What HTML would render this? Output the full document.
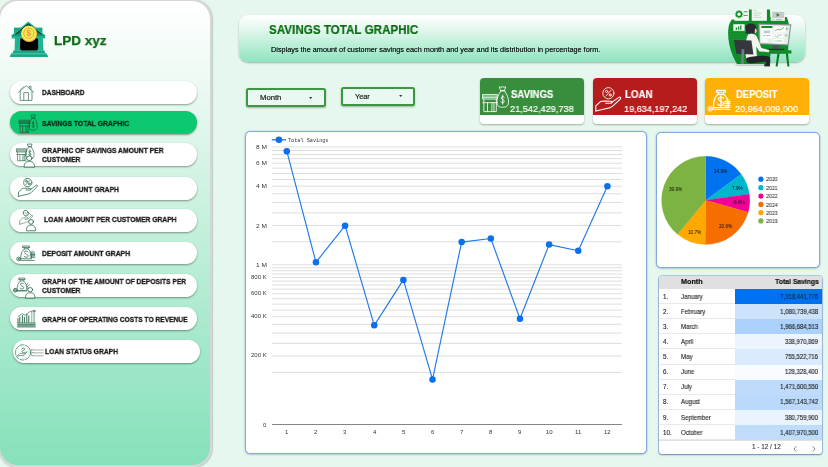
<!DOCTYPE html>
<html lang="en"><head><meta charset="utf-8"><title>LPD xyz - Savings Total Graphic</title>
<style>
*{box-sizing:border-box;margin:0;padding:0}
html,body{width:828px;height:467px;overflow:hidden}
body{position:relative;background:#e6f8ee;font-family:"Liberation Sans",sans-serif}
.t{position:absolute;white-space:nowrap;display:block;will-change:transform}
.abs{position:absolute}
#side{position:absolute;left:-2px;top:-1px;width:213.5px;height:467.5px;border-radius:20px;border:2px solid #d4d7d5;
 background:linear-gradient(180deg,#ffffff 0%,#eefaf4 16%,#c9f1de 45%,#a2e8cb 75%,#86e1ba 100%);
 box-shadow:.5px .5px 1px rgba(0,0,0,.18)}
.btn{position:absolute;background:#fff;border-radius:12px;box-shadow:0 1px 2px rgba(0,0,0,.38)}
.btn.on{background:#0cc870}
#hdr{position:absolute;left:239px;top:15px;width:566px;height:46.5px;border-radius:9px;
 background:linear-gradient(180deg,#ffffff 0%,#e9f9f1 25%,#b9eed6 65%,#8fe3bf 100%);
 box-shadow:0 1px 2px rgba(0,0,0,.3)}
.dd{position:absolute;border:2px solid #3d9742;border-radius:2.5px;background:#e9f8f0;box-shadow:0 1px 2px rgba(0,0,0,.3)}
.card{position:absolute;border-radius:4px;background:#fff;overflow:hidden;box-shadow:0 1px 2px rgba(0,0,0,.3)}
.card i{position:absolute;left:0;top:0;right:0;display:block}
.panel{position:absolute;background:#fff;border:1px solid #7fabdf;border-radius:5px;box-shadow:0 0 1.5px rgba(90,140,210,.6),0 1px 2px rgba(60,100,160,.25)}
svg{position:absolute;overflow:visible}
</style></head><body>

<div id="side"></div>
<svg style="left:6px;top:18px" width="46" height="44" viewBox="0 0 46 44">
<path d="M3.8 38.8 L5.4 35.2 L40.4 35.2 L42 38.8 Z" fill="#1fb391"/>
<path d="M3.8 38.8 L4.2 37.6 L41.6 37.6 L42 38.8 Z" fill="#179a7b"/>
<path d="M6.4 35.3 L7.6 32.2 L38.2 32.2 L39.4 35.3 Z" fill="#1aa685"/>
<rect x="8" y="9.6" width="28.4" height="8" fill="#1aa685"/>
<path d="M9 20 L14.4 20 L14.1 32.4 L8.6 32.4 Z" fill="#1fb391"/>
<path d="M31.8 20 L36.8 20 L37.4 32.4 L32 32.4 Z" fill="#1fb391"/>
<path d="M14.2 20 L32 20 L32.2 30 C32.2 32 31.4 32.6 29.6 32.6 L16.6 32.6 C14.8 32.6 14 32 14 30 Z" fill="#020202"/>
<path d="M5.7 17.2 L22.3 3.6 L39.1 17.2 L39.1 20.4 L5.7 20.4 Z" fill="#1fb391"/>
<path d="M9.4 16.4 L22.3 5.8 L35.6 16.4" fill="#128064" stroke="#0b0f0d" stroke-width=".9" stroke-linejoin="round"/>
<path d="M5.7 17.4 H39.1" stroke="#12876b" stroke-width=".8"/>
<circle cx="23.1" cy="16" r="8" fill="#f6b83c"/>
<circle cx="22.8" cy="15.2" r="7.5" fill="#f4ef55"/>
<circle cx="22.8" cy="15.2" r="5.1" fill="none" stroke="#f7a23a" stroke-width="1"/>
<text x="22.8" y="18.3" font-family="Liberation Sans, sans-serif" font-weight="700" font-size="8.4" fill="#f59336" text-anchor="middle">$</text>
</svg>
<span class="t" style="left:54.20px;top:34.10px;font:700 13.6px/1 'Liberation Sans',sans-serif;color:#0a6a12;transform:scaleX(0.9942);transform-origin:0 50%;-webkit-text-stroke:.25px;">LPD xyz</span>
<div class="btn" style="left:10.2px;top:81.2px;width:186.8px;height:23.3px"></div>
<div class="btn on" style="left:10.2px;top:111.2px;width:186.8px;height:22.5px"></div>
<div class="btn" style="left:10.2px;top:143.2px;width:186.8px;height:23.2px"></div>
<div class="btn" style="left:10.2px;top:177.2px;width:186.8px;height:23.0px"></div>
<div class="btn" style="left:10.2px;top:209px;width:186.8px;height:23.0px"></div>
<div class="btn" style="left:10.2px;top:241.5px;width:186.8px;height:22.8px"></div>
<div class="btn" style="left:10.2px;top:274px;width:186.8px;height:23.2px"></div>
<div class="btn" style="left:10.2px;top:307px;width:186.8px;height:22.8px"></div>
<div class="btn" style="left:13.2px;top:339.7px;width:186.5px;height:23.0px"></div>
<span class="t" style="left:42.20px;top:89.35px;font:700 8.1px/1 'Liberation Sans',sans-serif;color:#161616;transform:scaleX(0.8091);transform-origin:0 50%;-webkit-text-stroke:.3px;">DASHBOARD</span>
<span class="t" style="left:42.20px;top:120.05px;font:700 8.1px/1 'Liberation Sans',sans-serif;color:#0b2a18;transform:scaleX(0.8390);transform-origin:0 50%;-webkit-text-stroke:.3px;">SAVINGS TOTAL GRAPHIC</span>
<span class="t" style="left:42.20px;top:147.05px;font:700 8.1px/1 'Liberation Sans',sans-serif;color:#161616;transform:scaleX(0.8372);transform-origin:0 50%;-webkit-text-stroke:.3px;">GRAPHIC OF SAVINGS AMOUNT PER</span>
<span class="t" style="left:42.20px;top:156.35px;font:700 8.1px/1 'Liberation Sans',sans-serif;color:#161616;transform:scaleX(0.8333);transform-origin:0 50%;-webkit-text-stroke:.3px;">CUSTOMER</span>
<span class="t" style="left:42.20px;top:185.75px;font:700 8.1px/1 'Liberation Sans',sans-serif;color:#161616;transform:scaleX(0.8364);transform-origin:0 50%;-webkit-text-stroke:.3px;">LOAN AMOUNT GRAPH</span>
<span class="t" style="left:44.00px;top:216.35px;font:700 8.1px/1 'Liberation Sans',sans-serif;color:#161616;transform:scaleX(0.8330);transform-origin:0 50%;-webkit-text-stroke:.3px;">LOAN AMOUNT PER CUSTOMER GRAPH</span>
<span class="t" style="left:41.50px;top:250.15px;font:700 8.1px/1 'Liberation Sans',sans-serif;color:#161616;transform:scaleX(0.8426);transform-origin:0 50%;-webkit-text-stroke:.3px;">DEPOSIT AMOUNT GRAPH</span>
<span class="t" style="left:41.50px;top:277.55px;font:700 8.1px/1 'Liberation Sans',sans-serif;color:#161616;transform:scaleX(0.8273);transform-origin:0 50%;-webkit-text-stroke:.3px;">GRAPH OF THE AMOUNT OF DEPOSITS PER</span>
<span class="t" style="left:41.50px;top:286.85px;font:700 8.1px/1 'Liberation Sans',sans-serif;color:#161616;transform:scaleX(0.8333);transform-origin:0 50%;-webkit-text-stroke:.3px;">CUSTOMER</span>
<span class="t" style="left:41.50px;top:315.75px;font:700 8.1px/1 'Liberation Sans',sans-serif;color:#161616;transform:scaleX(0.8210);transform-origin:0 50%;-webkit-text-stroke:.3px;">GRAPH OF OPERATING COSTS TO REVENUE</span>
<span class="t" style="left:44.80px;top:347.55px;font:700 8.1px/1 'Liberation Sans',sans-serif;color:#161616;transform:scaleX(0.8316);transform-origin:0 50%;-webkit-text-stroke:.3px;">LOAN STATUS GRAPH</span>
<svg style="left:18px;top:84.5px" width="16" height="16" viewBox="0 0 16 16" fill="none" stroke="#2f6f50" stroke-width="0.7" stroke-linecap="round" stroke-linejoin="round" ><path d="M0.6 7.2 L8.2 0.7 L15.6 7.2"/><path d="M2.2 6.2 V15.4 H14 V6.2"/><path d="M5.8 15.4 V7.6 H10.4 V15.4"/><path d="M11.4 3.2 V1.2 H13 V4.8"/><path d="M2.5 4.8 l1.3 -1.8 M4.6 3.1 l1.2 -1.5" stroke-width=".5"/></svg>
<svg style="left:19px;top:113.5px" width="19" height="20" viewBox="0 0 19 20" fill="none" stroke="#1c5c3d" stroke-width="0.75" stroke-linecap="round" stroke-linejoin="round" ><g transform="translate(0 5.6) scale(0.92 1.02)"><path d="M0.5 0.6 h11 v3.2 h-11 z"/><path d="M0.5 1.7 h11 M0.5 2.8 h11"/><path d="M1.2 3.8 v8.7 h9.6 v-8.7"/><path d="M0.4 6.3 h11.2"/><path d="M4 6.3 v6.2 M7.4 6.3 v6.2 M9 6.3 v6.2"/></g><g transform="translate(10 0.5) scale(0.85 1.17)"><path d="M2.6 0.5 h4.8 l-1 2.2 h-2.8 z"/><path d="M3.2 3.1 h3.6"/><path d="M3.4 3.3 C1.2 5.4 0.2 8.3 0.4 10.6 C0.6 12.9 2.4 13.5 5 13.5 C7.6 13.5 9.4 12.9 9.6 10.6 C9.8 8.3 8.8 5.4 6.6 3.3"/><path d="M6.3 7.2 C5.9 6.4 4 6.3 3.8 7.4 C3.6 8.6 6.3 8.4 6.2 9.8 C6.1 11 4 11 3.6 10 M5 5.7 v5.8"/></g></svg>
<svg style="left:16px;top:143px" width="20" height="24" viewBox="0 0 20 24" fill="none" stroke="#2f6f50" stroke-width="0.7" stroke-linecap="round" stroke-linejoin="round" ><g transform="translate(0.4 5.2) scale(0.88 1.0)"><path d="M0.5 0.6 h11 v3.2 h-11 z"/><path d="M0.5 1.7 h11 M0.5 2.8 h11"/><path d="M1.2 3.8 v8.7 h9.6 v-8.7"/><path d="M0.4 6.3 h11.2"/><path d="M4 6.3 v6.2 M7.4 6.3 v6.2 M9 6.3 v6.2"/></g><g transform="translate(9.4 0.5) scale(0.9 1.12)"><path d="M2.6 0.5 h4.8 l-1 2.2 h-2.8 z"/><path d="M3.2 3.1 h3.6"/><path d="M3.4 3.3 C1.2 5.4 0.2 8.3 0.4 10.6 C0.6 12.9 2.4 13.5 5 13.5 C7.6 13.5 9.4 12.9 9.6 10.6 C9.8 8.3 8.8 5.4 6.6 3.3"/><path d="M6.3 7.2 C5.9 6.4 4 6.3 3.8 7.4 C3.6 8.6 6.3 8.4 6.2 9.8 C6.1 11 4 11 3.6 10 M5 5.7 v5.8"/></g><g transform="translate(7.6 12.6) scale(1.28 1.12)"><circle cx="4.5" cy="2.4" r="2.1" fill="#fff"/><path d="M0.4 10 C0.4 6.6 2 5.2 4.5 5.2 S8.6 6.6 8.6 10 Z" fill="#fff"/></g></svg>
<svg style="left:17.5px;top:178px" width="20" height="19" viewBox="0 0 20 19" fill="none" stroke="#2f6f50" stroke-width="0.8" stroke-linecap="round" stroke-linejoin="round" ><circle cx="9.8" cy="4.6" r="4.1"/><circle cx="8.4" cy="3.3" r="0.85"/><circle cx="11.2" cy="5.9" r="0.85"/><path d="M11.7 2.6 L8 6.6"/><g transform="translate(0 6.6) scale(1.0 1.0)"><path d="M0.4 11.8 L0.4 7.6 L4.2 4 C5 3.6 6 3.6 7 3.6 L12 3.8 C13.2 3.9 13.2 5.4 12 5.4 L8 5.4"/><path d="M12.6 4.8 L18.2 0.6 C19.2 0 20 1 19.2 2 L13.2 8 C12 9 10 9.6 8 10 L0.4 11.8"/></g></svg>
<svg style="left:18.5px;top:209.5px" width="18" height="22" viewBox="0 0 18 22" fill="none" stroke="#2f6f50" stroke-width="0.75" stroke-linecap="round" stroke-linejoin="round" ><ellipse cx="6.8" cy="3.2" rx="2.4" ry="3" transform="rotate(-25 6.8 3.2)"/><path d="M5.6 2.2 l2.6 2.4" stroke-width=".6"/><path d="M9 1.8 l3.2 3.4" stroke-width=".6"/><g transform="translate(0.4 5.0) scale(0.68 0.78)"><path d="M0.4 11.8 L0.4 7.6 L4.2 4 C5 3.6 6 3.6 7 3.6 L12 3.8 C13.2 3.9 13.2 5.4 12 5.4 L8 5.4"/><path d="M12.6 4.8 L18.2 0.6 C19.2 0 20 1 19.2 2 L13.2 8 C12 9 10 9.6 8 10 L0.4 11.8"/></g><g transform="translate(7.0 9.2) scale(1.12 1.12)"><circle cx="4.5" cy="2.4" r="2.1" fill="#fff"/><path d="M0.4 10 C0.4 6.6 2 5.2 4.5 5.2 S8.6 6.6 8.6 10 Z" fill="#fff"/></g></svg>
<svg style="left:15.5px;top:244.5px" width="20" height="17" viewBox="0 0 20 17" fill="none" stroke="#2f6f50" stroke-width="0.75" stroke-linecap="round" stroke-linejoin="round" ><g transform="translate(4.4 0.5) scale(1.06 1.02)"><path d="M2.4 0.5 h6.2 v1.4 h-6.2 z"/><path d="M3.4 1.9 L3.8 3.4 M7.6 1.9 L7.2 3.4"/><path d="M3.8 3.4 C1.4 4.8 0.3 8 0.3 13 L10.7 13 C10.7 8 9.6 4.8 7.2 3.4 Z"/><path d="M7.3 6.4 C6.9 5 3.9 5 3.8 6.7 C3.7 8.6 7.4 8.2 7.3 10.2 C7.2 12 4 12 3.5 10.5"/></g><circle cx="2.6" cy="14" r="1.9"/><circle cx="2.6" cy="14" r=".7"/><path d="M4.4 15.4 h13.8"/><path d="M14 8 h4.6 M14.4 9.4 h4.4 M14 10.8 h4.8 M14.4 12.2 h4.4" stroke-width=".9"/><path d="M15.4 7 l1.4 -1 l1.4 1" stroke-width=".6"/></svg>
<svg style="left:13.3px;top:276.5px" width="23" height="22" viewBox="0 0 23 22" fill="none" stroke="#2f6f50" stroke-width="0.75" stroke-linecap="round" stroke-linejoin="round" ><g transform="translate(3.8 0.6) scale(0.95 1.0)"><path d="M2.4 0.5 h6.2 v1.4 h-6.2 z"/><path d="M3.4 1.9 L3.8 3.4 M7.6 1.9 L7.2 3.4"/><path d="M3.8 3.4 C1.4 4.8 0.3 8 0.3 13 L10.7 13 C10.7 8 9.6 4.8 7.2 3.4 Z"/><path d="M7.3 6.4 C6.9 5 3.9 5 3.8 6.7 C3.7 8.6 7.4 8.2 7.3 10.2 C7.2 12 4 12 3.5 10.5"/></g><circle cx="2.3" cy="13.2" r="1.9" fill="#7aa892"/><path d="M4 14 h9"/><path d="M13.2 8.4 l1.8 -2.2 M14.4 9.6 l2 -1.6 M13.6 11 h1.6" stroke-width=".7"/><g transform="translate(12.0 10.2) scale(1.16 1.06)"><circle cx="4.5" cy="2.4" r="2.1" fill="#fff"/><path d="M0.4 10 C0.4 6.6 2 5.2 4.5 5.2 S8.6 6.6 8.6 10 Z" fill="#fff"/></g></svg>
<svg style="left:16.5px;top:309.5px" width="19" height="18" viewBox="0 0 19 18" fill="none" stroke="#2f6f50" stroke-width="0.7" stroke-linecap="round" stroke-linejoin="round" ><path d="M1 8.6 v3.8 M2.8 7 v5.4 M5.4 5.6 v6.8 M7.4 7.2 v5.2 M9.8 4.4 v8 M11.8 6 v6.4" stroke-width="1"/><path d="M14.6 2.4 v10 M16.2 2.4 v10 M17.6 1.6 v10.8" stroke-width=".7" stroke="#7aa690"/><path d="M1 6.6 L5.2 3.6 L8 5.4 L12.4 2 L16.6 0.8" stroke-dasharray="1.6 .7"/><circle cx="17.2" cy="1" r="0.9"/><path d="M0.6 13 h17.6 M0.6 14.4 h17.6 M0.6 15.8 h17.6 M0.6 16.9 h17.6" stroke-width="0.9" stroke-dasharray="2.6 0.6"/></svg>
<svg style="left:14.6px;top:344px" width="29" height="18" viewBox="0 0 29 18" fill="none" stroke="#2f6f50" stroke-width="0.8" stroke-linecap="round" stroke-linejoin="round" ><circle cx="8" cy="8.4" r="7.6" stroke-dasharray="4 1.4" stroke-width=".7"/><circle cx="8" cy="8.4" r="6.2" stroke="#c4dfd0" stroke-width=".45"/><path d="M6.6 5 c0.6 -1.4 3 -1.2 3 0.2 s-2.8 1.2 -2.6 2.6 c0.2 1.2 2.4 1.2 3 0.2" /><path d="M2.6 11.8 l2.6 -2.6 l3.6 0.8 l3.4 -2.4 l-3.2 4 h-3.6 z" stroke-width=".6"/><path d="M16.6 5.4 c-1 1.8 -1 4.2 0 6" stroke-width=".55"/><path d="M17 5.8 h1.2 M17 8.6 h1.2 M17 11.4 h1.2" stroke-width=".6"/><path d="M18.6 6 h9.6 M18.6 8.9 h9.6 M18.6 11.8 h9.6" stroke="#8b8f8d" stroke-width=".75"/></svg>
<div id="hdr"></div>
<span class="t" style="left:269.10px;top:23.00px;font:700 13.0px/1 'Liberation Sans',sans-serif;color:#0a6a12;transform:scaleX(0.8955);transform-origin:0 50%;-webkit-text-stroke:.2px;">SAVINGS TOTAL GRAPHIC</span>
<span class="t" style="left:270.90px;top:45.90px;font:400 7.2px/1 'Liberation Sans',sans-serif;color:#1b2a22;transform:scaleX(1.0149);transform-origin:0 50%;text-shadow:0 0 .3px #1b2a22;">Displays the amount of customer savings each month and year and its distribution in percentage form.</span>
<svg style="left:722px;top:4px" width="76" height="66" viewBox="0 0 76 66">
<path d="M10 15.6 L26.6 15.6 L26.8 5.6 L48 5.6 L48.4 13 L64.6 13 C68 19 68 30 66.4 40 L66 49.6 L48.6 49.6 L47.2 62 L16 62 C12 55 8.6 48 7.2 40 C5.4 31 5.6 20 10 15.6 Z" fill="#0f8d28"/>
<g stroke="#3aa64f" stroke-width=".45" opacity=".8"><path d="M7 27.5 h28 M7 30 h28 M7.4 32.5 h27 M7.8 35 h20"/></g>
<rect x="12.4" y="5" width="14.4" height="11.8" fill="#f2f7f4"/>
<circle cx="17" cy="10.2" r="2.5" fill="none" stroke="#0f8d28" stroke-width="1.5"/><circle cx="17" cy="10.2" r="3.7" fill="none" stroke="#0f8d28" stroke-width=".9" stroke-dasharray="1 .95"/>
<path d="M21.6 7.8 h4 M21.6 11.4 h4" stroke="#0f8d28" stroke-width=".8"/>
<rect x="29.7" y="5" width="15.2" height="11.8" fill="#f2f7f4"/><path d="M31.6 6.4 h3 M31.6 9 h8 M31.6 11.2 h6 M31.6 13.4 h8" stroke="#a6d4b0" stroke-width=".7"/>
<rect x="48.7" y="6.2" width="14.2" height="10.6" fill="#f2f7f4"/><rect x="50.2" y="7.8" width="12" height="6.4" fill="#c4cacc"/><path d="M54.6 9 l3.2 1.9 l-3.2 1.9 z" fill="#0f8d28"/>
<path d="M50.4 15.6 h2 M54 15.6 h6" stroke="#8a9296" stroke-width=".6"/>
<rect x="11.3" y="20.2" width="11.3" height="6.6" fill="#f2f7f4"/><path d="M14.4 25.8 v-2.2 M16.6 25.8 v-3.2 M18.8 25.8 v-4.2" stroke="#0f8d28" stroke-width="1.3"/>
<path d="M36.4 19.6 L69.4 20.2 L66.6 41.4 L37 40.2 Z" fill="#8d9399"/>
<path d="M37.6 20.8 L68 21.4 L65.6 40.2 L38.2 39.2 Z" fill="#e8eeea"/>
<rect x="39.4" y="22" width="11" height="12.4" fill="#fff"/><rect x="39.4" y="22" width="11" height="2" fill="#0f8d28"/><rect x="41.6" y="26.6" width="6.6" height="2.6" fill="#c4cacc"/><path d="M41 31.6 h2.4 M44.4 31.6 h4" stroke="#7cc08a" stroke-width=".8"/>
<rect x="52" y="22.4" width="11.4" height="6" fill="#fff"/><path d="M53 26.6 l3 -1.4 l2 .8 l4 -2.6" stroke="#0f8d28" stroke-width=".6" fill="none"/>
<rect x="52" y="29.4" width="9.4" height="4.6" fill="#fff"/><path d="M53 31 h1.2 M55.4 31 h4.6 M53 32.8 h4" stroke="#7cc08a" stroke-width=".7"/>
<rect x="39.4" y="35.2" width="6.2" height="3" fill="#fff"/><rect x="51" y="35" width="10.6" height="4" fill="#fff"/><path d="M52 37 h1.4 M54.4 37 h5.6" stroke="#7cc08a" stroke-width=".8"/>
<path d="M64 23.4 l2.6 1.4 l-2.6 1.4 z M63.6 30.2 l2.2 1.4 l-2.4 1.2 z" fill="#7cc08a"/>
<path d="M51 41 h5.6 l.8 4.2 h-7.4 z" fill="#4d5258"/><path d="M45.2 44.8 h17 v1.5 h-17 z" fill="#2a2d32"/>
<path d="M40 46.3 L69.4 46.3 L69.4 49.6 L40 49.6 Z" fill="#0f8d28"/>
<path d="M55.4 49.6 L53.6 62.4 L55.6 62.4 L57.6 49.6 Z M63.8 49.6 L65.4 62.4 L67.4 62.4 L66 49.6 Z" fill="#0b7a20"/>
<path d="M23.4 24 C23 18.6 33.6 17.6 34.4 23.4 C34.8 26 34.2 27.6 33 29.6 L23 29.6 C25 27.6 23.8 26 23.4 24 Z" fill="#2a2b31"/>
<path d="M33 24.6 c1.4 .2 1.7 1.2 1.7 2.4 c0 1.4 -.8 2.2 -2 2.2 z" fill="#e9cdbf"/>
<path d="M26 30.4 C30 29 33.8 29.8 35.2 33.6 L39.4 44 L47.4 46 L46.8 48.2 L37.4 47.4 L34.2 42.4 L35 54 L24.4 55.6 C22.6 47 23 37 26 30.4 Z" fill="#f3f3f1"/>
<path d="M24.4 54 C30 52 42 50.8 46.8 52.6 C49 53.8 48.4 57.4 47.6 62 L43.4 62 L44 57.6 L28.6 59.4 C25 59.2 23.6 56.6 24.4 54 Z" fill="#222428"/>
<path d="M12 36 L29.4 36.4 L31.4 50.4 L14.4 49.8 Z" fill="#34373d"/>
<path d="M19.6 45.2 L22.4 45.2 L21.6 61 L19 61 Z" fill="#737b8c"/>
<path d="M13.4 60 h29 v1.9 h-29 z" fill="#d3d8d8"/><path d="M42.4 60.4 h5.6 v2 h-5.6 z" fill="#222428"/>
</svg>
<div class="dd" style="left:245.9px;top:88.3px;width:80px;height:18.6px"></div>
<div class="dd" style="left:340.8px;top:87.1px;width:74.5px;height:18.8px"></div>
<span class="t" style="left:259.90px;top:95.05px;font:400 6.9px/1 'Liberation Sans',sans-serif;color:#111;transform:scaleX(1.1159);transform-origin:0 50%;-webkit-text-stroke:.15px;">Month</span>
<span class="t" style="left:355.00px;top:93.55px;font:400 6.9px/1 'Liberation Sans',sans-serif;color:#111;transform:scaleX(1.0616);transform-origin:0 50%;-webkit-text-stroke:.15px;">Year</span>
<svg style="left:309.1px;top:96.6px" width="3.4" height="2.4" viewBox="0 0 4 3"><path d="M0 0h4L2 2.6z" fill="#333"/></svg>
<svg style="left:398.6px;top:95.3px" width="3.4" height="2.4" viewBox="0 0 4 3"><path d="M0 0h4L2 2.6z" fill="#333"/></svg>
<div class="card" style="left:480px;top:78.4px;width:104.2px;height:45.6px"><i style="height:36.4px;background:#388e3c"></i></div>
<span class="t" style="left:510.60px;top:90.20px;font:700 10.2px/1 'Liberation Sans',sans-serif;color:#fff;transform:scaleX(0.9368);transform-origin:0 50%;-webkit-text-stroke:.15px;">SAVINGS</span>
<span class="t" style="left:509.90px;top:104.35px;font:400 9.7px/1 'Liberation Sans',sans-serif;color:#fff;transform:scaleX(0.9462);transform-origin:0 50%;-webkit-text-stroke:.2px;">21,542,429,738</span>
<div class="card" style="left:593.2px;top:78.4px;width:104.3px;height:45.6px"><i style="height:36.4px;background:#b71c1c"></i></div>
<span class="t" style="left:624.60px;top:90.20px;font:700 10.2px/1 'Liberation Sans',sans-serif;color:#fff;transform:scaleX(0.9517);transform-origin:0 50%;-webkit-text-stroke:.15px;">LOAN</span>
<span class="t" style="left:623.90px;top:104.35px;font:400 9.7px/1 'Liberation Sans',sans-serif;color:#fff;transform:scaleX(0.9388);transform-origin:0 50%;-webkit-text-stroke:.2px;">19,634,197,242</span>
<div class="card" style="left:705px;top:78.4px;width:104.2px;height:45.6px"><i style="height:36.4px;background:#ffb006"></i></div>
<span class="t" style="left:735.90px;top:90.20px;font:700 10.2px/1 'Liberation Sans',sans-serif;color:#fff;transform:scaleX(0.9246);transform-origin:0 50%;-webkit-text-stroke:.15px;">DEPOSIT</span>
<span class="t" style="left:735.20px;top:104.35px;font:400 9.7px/1 'Liberation Sans',sans-serif;color:#fff;transform:scaleX(0.9343);transform-origin:0 50%;-webkit-text-stroke:.2px;">20,964,009,000</span>
<svg style="left:482px;top:86px" width="28" height="27" viewBox="0 0 28 27" fill="none" stroke="#ffffff" stroke-width="0.6" stroke-linecap="round" stroke-linejoin="round" ><g transform="translate(0.3 7.6) scale(1.3 1.44)"><path d="M0.5 0.6 h11 v3.2 h-11 z"/><path d="M0.5 1.7 h11 M0.5 2.8 h11"/><path d="M1.2 3.8 v8.7 h9.6 v-8.7"/><path d="M0.4 6.3 h11.2"/><path d="M4 6.3 v6.2 M7.4 6.3 v6.2 M9 6.3 v6.2"/></g><g transform="translate(14.4 0.2) scale(1.26 1.56)"><path d="M2.6 0.5 h4.8 l-1 2.2 h-2.8 z"/><path d="M3.2 3.1 h3.6"/><path d="M3.4 3.3 C1.2 5.4 0.2 8.3 0.4 10.6 C0.6 12.9 2.4 13.5 5 13.5 C7.6 13.5 9.4 12.9 9.6 10.6 C9.8 8.3 8.8 5.4 6.6 3.3"/><path d="M6.3 7.2 C5.9 6.4 4 6.3 3.8 7.4 C3.6 8.6 6.3 8.4 6.2 9.8 C6.1 11 4 11 3.6 10 M5 5.7 v5.8"/></g></svg>
<svg style="left:594.5px;top:87px" width="27" height="26" viewBox="0 0 27 26" fill="none" stroke="#ffffff" stroke-width="0.85" stroke-linecap="round" stroke-linejoin="round" ><circle cx="13.4" cy="6.2" r="5.6"/><circle cx="11.6" cy="4.4" r="1.1"/><circle cx="15.2" cy="8" r="1.1"/><path d="M15.8 3.4 L11 9"/><g transform="translate(0.3 9.6) scale(1.3 1.22)"><path d="M0.4 11.8 L0.4 7.6 L4.2 4 C5 3.6 6 3.6 7 3.6 L12 3.8 C13.2 3.9 13.2 5.4 12 5.4 L8 5.4"/><path d="M12.6 4.8 L18.2 0.6 C19.2 0 20 1 19.2 2 L13.2 8 C12 9 10 9.6 8 10 L0.4 11.8"/></g></svg>
<svg style="left:706.5px;top:88.5px" width="27" height="25" viewBox="0 0 27 25" fill="none" stroke="#ffffff" stroke-width="0.85" stroke-linecap="round" stroke-linejoin="round" ><g transform="translate(6.0 0.6) scale(1.44 1.38)"><path d="M2.4 0.5 h6.2 v1.4 h-6.2 z"/><path d="M3.4 1.9 L3.8 3.4 M7.6 1.9 L7.2 3.4"/><path d="M3.8 3.4 C1.4 4.8 0.3 8 0.3 13 L10.7 13 C10.7 8 9.6 4.8 7.2 3.4 Z"/><path d="M7.3 6.4 C6.9 5 3.9 5 3.8 6.7 C3.7 8.6 7.4 8.2 7.3 10.2 C7.2 12 4 12 3.5 10.5"/><path d="M5.5 4.6 v8"/></g><circle cx="3.2" cy="19.8" r="2.4"/><circle cx="3.2" cy="19.8" r=".9"/><path d="M5.8 20.4 h17.4"/><path d="M17.4 12.6 h5.6 M17.8 14.4 h5.2 M17.4 16.2 h5.8 M17.8 18 h5.2" stroke-width="1.1"/><path d="M19 11.2 l1.6 -1.3 l1.6 1.3" stroke-width=".7"/></svg>
<div class="panel" style="left:245.0px;top:130.7px;width:401.5px;height:323.0px"></div>
<svg style="left:0;top:0" width="828" height="467" viewBox="0 0 828 467"><path d="M272 372.36H622" stroke="#dedede" stroke-width="1"/><path d="M272 356.05H622" stroke="#dedede" stroke-width="1"/><path d="M272 343.40H622" stroke="#dedede" stroke-width="1"/><path d="M272 333.06H622" stroke="#dedede" stroke-width="1"/><path d="M272 324.32H622" stroke="#dedede" stroke-width="1"/><path d="M272 316.75H622" stroke="#dedede" stroke-width="1"/><path d="M272 310.07H622" stroke="#dedede" stroke-width="1"/><path d="M272 304.10H622" stroke="#dedede" stroke-width="1"/><path d="M272 298.70H622" stroke="#dedede" stroke-width="1"/><path d="M272 293.76H622" stroke="#dedede" stroke-width="1"/><path d="M272 289.22H622" stroke="#dedede" stroke-width="1"/><path d="M272 285.02H622" stroke="#dedede" stroke-width="1"/><path d="M272 281.11H622" stroke="#dedede" stroke-width="1"/><path d="M272 277.45H622" stroke="#dedede" stroke-width="1"/><path d="M272 274.01H622" stroke="#dedede" stroke-width="1"/><path d="M272 270.77H622" stroke="#dedede" stroke-width="1"/><path d="M272 267.71H622" stroke="#dedede" stroke-width="1"/><path d="M272 264.80H622" stroke="#dedede" stroke-width="1"/><path d="M272 241.81H622" stroke="#dedede" stroke-width="1"/><path d="M272 225.50H622" stroke="#dedede" stroke-width="1"/><path d="M272 212.85H622" stroke="#dedede" stroke-width="1"/><path d="M272 202.51H622" stroke="#dedede" stroke-width="1"/><path d="M272 193.77H622" stroke="#dedede" stroke-width="1"/><path d="M272 186.20H622" stroke="#dedede" stroke-width="1"/><path d="M272 179.52H622" stroke="#dedede" stroke-width="1"/><path d="M272 173.55H622" stroke="#dedede" stroke-width="1"/><path d="M272 168.14H622" stroke="#dedede" stroke-width="1"/><path d="M272 163.21H622" stroke="#dedede" stroke-width="1"/><path d="M272 158.67H622" stroke="#dedede" stroke-width="1"/><path d="M272 154.47H622" stroke="#dedede" stroke-width="1"/><path d="M272 150.56H622" stroke="#dedede" stroke-width="1"/><path d="M272 146.90H622" stroke="#dedede" stroke-width="1"/><path d="M272 424.5H622" stroke="#858585" stroke-width="1"/><path d="M286.80 151.15 L315.94 262.30 L345.09 225.65 L374.24 325.34 L403.38 279.90 L432.52 379.40 L461.67 242.09 L490.81 238.53 L519.96 318.75 L549.11 244.60 L578.25 250.72 L607.39 186.26" fill="none" stroke="#2079e9" stroke-width="1.15" stroke-linejoin="round"/><circle cx="286.80" cy="151.15" r="3.25" fill="#0b6ff0"/><circle cx="315.94" cy="262.30" r="3.25" fill="#0b6ff0"/><circle cx="345.09" cy="225.65" r="3.25" fill="#0b6ff0"/><circle cx="374.24" cy="325.34" r="3.25" fill="#0b6ff0"/><circle cx="403.38" cy="279.90" r="3.25" fill="#0b6ff0"/><circle cx="432.52" cy="379.40" r="3.25" fill="#0b6ff0"/><circle cx="461.67" cy="242.09" r="3.25" fill="#0b6ff0"/><circle cx="490.81" cy="238.53" r="3.25" fill="#0b6ff0"/><circle cx="519.96" cy="318.75" r="3.25" fill="#0b6ff0"/><circle cx="549.11" cy="244.60" r="3.25" fill="#0b6ff0"/><circle cx="578.25" cy="250.72" r="3.25" fill="#0b6ff0"/><circle cx="607.39" cy="186.26" r="3.25" fill="#0b6ff0"/><path d="M271.8 139.8H286" stroke="#1a73e8" stroke-width="1.25"/><circle cx="278.9" cy="139.8" r="3.3" fill="#0b6ff0"/></svg>
<span class="t" style="left:288.20px;top:138.60px;font:400 5.2px/1 'Liberation Mono',monospace;color:#333;">Total Savings</span>
<span class="t" style="left:256.90px;top:144.05px;font:400 6.0px/1 'Liberation Sans',sans-serif;color:#333;transform:scaleX(1.0898);transform-origin:100% 50%;">8 M</span>
<span class="t" style="left:256.90px;top:160.36px;font:400 6.0px/1 'Liberation Sans',sans-serif;color:#333;transform:scaleX(1.0898);transform-origin:100% 50%;">6 M</span>
<span class="t" style="left:256.90px;top:183.35px;font:400 6.0px/1 'Liberation Sans',sans-serif;color:#333;transform:scaleX(1.0898);transform-origin:100% 50%;">4 M</span>
<span class="t" style="left:256.90px;top:222.65px;font:400 6.0px/1 'Liberation Sans',sans-serif;color:#333;transform:scaleX(1.0898);transform-origin:100% 50%;">2 M</span>
<span class="t" style="left:256.90px;top:261.95px;font:400 6.0px/1 'Liberation Sans',sans-serif;color:#333;transform:scaleX(1.0898);transform-origin:100% 50%;">1 M</span>
<span class="t" style="left:252.27px;top:274.70px;font:400 5.6px/1 'Liberation Sans',sans-serif;color:#333;transform:scaleX(1.0660);transform-origin:100% 50%;">800 K</span>
<span class="t" style="left:252.27px;top:291.01px;font:400 5.6px/1 'Liberation Sans',sans-serif;color:#333;transform:scaleX(1.0660);transform-origin:100% 50%;">600 K</span>
<span class="t" style="left:252.27px;top:314.00px;font:400 5.6px/1 'Liberation Sans',sans-serif;color:#333;transform:scaleX(1.0660);transform-origin:100% 50%;">400 K</span>
<span class="t" style="left:252.27px;top:353.30px;font:400 5.6px/1 'Liberation Sans',sans-serif;color:#333;transform:scaleX(1.0660);transform-origin:100% 50%;">200 K</span>
<span class="t" style="left:263.26px;top:422.30px;font:400 6.0px/1 'Liberation Sans',sans-serif;color:#333;">0</span>
<span class="t" style="left:285.13px;top:429.40px;font:400 6.0px/1 'Liberation Sans',sans-serif;color:#333;">1</span>
<span class="t" style="left:314.28px;top:429.40px;font:400 6.0px/1 'Liberation Sans',sans-serif;color:#333;">2</span>
<span class="t" style="left:343.42px;top:429.40px;font:400 6.0px/1 'Liberation Sans',sans-serif;color:#333;">3</span>
<span class="t" style="left:372.57px;top:429.40px;font:400 6.0px/1 'Liberation Sans',sans-serif;color:#333;">4</span>
<span class="t" style="left:401.71px;top:429.40px;font:400 6.0px/1 'Liberation Sans',sans-serif;color:#333;">5</span>
<span class="t" style="left:430.86px;top:429.40px;font:400 6.0px/1 'Liberation Sans',sans-serif;color:#333;">6</span>
<span class="t" style="left:460.00px;top:429.40px;font:400 6.0px/1 'Liberation Sans',sans-serif;color:#333;">7</span>
<span class="t" style="left:489.15px;top:429.40px;font:400 6.0px/1 'Liberation Sans',sans-serif;color:#333;">8</span>
<span class="t" style="left:518.29px;top:429.40px;font:400 6.0px/1 'Liberation Sans',sans-serif;color:#333;">9</span>
<span class="t" style="left:545.77px;top:429.40px;font:400 6.0px/1 'Liberation Sans',sans-serif;color:#333;">10</span>
<span class="t" style="left:575.14px;top:429.40px;font:400 6.0px/1 'Liberation Sans',sans-serif;color:#333;">11</span>
<span class="t" style="left:604.06px;top:429.40px;font:400 6.0px/1 'Liberation Sans',sans-serif;color:#333;">12</span>
<div class="panel" style="left:656px;top:132.0px;width:164px;height:136.0px"></div>
<svg style="left:0;top:0" width="828" height="467" viewBox="0 0 828 467"><path d="M705.7 200.3L705.70 156.20A44.1 44.1 0 0 1 741.21 174.16Z" fill="#0072f0" stroke="#0072f0" stroke-width=".3"/><path d="M705.7 200.3L741.21 174.16A44.1 44.1 0 0 1 749.38 194.22Z" fill="#00b6cb" stroke="#00b6cb" stroke-width=".3"/><path d="M705.7 200.3L749.38 194.22A44.1 44.1 0 0 1 748.13 212.34Z" fill="#f10096" stroke="#f10096" stroke-width=".3"/><path d="M705.7 200.3L748.13 212.34A44.1 44.1 0 0 1 705.15 244.40Z" fill="#f66d00" stroke="#f66d00" stroke-width=".3"/><path d="M705.7 200.3L705.15 244.40A44.1 44.1 0 0 1 677.59 234.28Z" fill="#ffa800" stroke="#ffa800" stroke-width=".3"/><path d="M705.7 200.3L677.59 234.28A44.1 44.1 0 0 1 705.70 156.20Z" fill="#7cb342" stroke="#7cb342" stroke-width=".3"/><circle cx="760.9" cy="179.2" r="2.6" fill="#0072f0"/><circle cx="760.9" cy="187.7" r="2.6" fill="#00b6cb"/><circle cx="760.9" cy="196.1" r="2.6" fill="#f10096"/><circle cx="760.9" cy="204.4" r="2.6" fill="#f66d00"/><circle cx="760.9" cy="212.7" r="2.6" fill="#ffa800"/><circle cx="760.9" cy="220.9" r="2.6" fill="#7cb342"/></svg>
<span class="t" style="left:765.60px;top:177.30px;font:400 5.6px/1 'Liberation Sans',sans-serif;color:#111;transform:scaleX(0.9392);transform-origin:0 50%;">2020</span>
<span class="t" style="left:765.60px;top:185.80px;font:400 5.6px/1 'Liberation Sans',sans-serif;color:#111;transform:scaleX(0.9392);transform-origin:0 50%;">2021</span>
<span class="t" style="left:765.60px;top:194.20px;font:400 5.6px/1 'Liberation Sans',sans-serif;color:#111;transform:scaleX(0.9392);transform-origin:0 50%;">2022</span>
<span class="t" style="left:765.60px;top:202.50px;font:400 5.6px/1 'Liberation Sans',sans-serif;color:#111;transform:scaleX(0.9392);transform-origin:0 50%;">2024</span>
<span class="t" style="left:765.60px;top:210.80px;font:400 5.6px/1 'Liberation Sans',sans-serif;color:#111;transform:scaleX(0.9392);transform-origin:0 50%;">2023</span>
<span class="t" style="left:765.60px;top:219.00px;font:400 5.6px/1 'Liberation Sans',sans-serif;color:#111;transform:scaleX(0.9392);transform-origin:0 50%;">2019</span>
<span class="t" style="left:714.24px;top:169.85px;font:400 4.7px/1 'Liberation Sans',sans-serif;color:#111;">14.9%</span>
<span class="t" style="left:731.54px;top:186.95px;font:400 4.7px/1 'Liberation Sans',sans-serif;color:#111;">7.9%</span>
<span class="t" style="left:733.74px;top:201.35px;font:400 4.7px/1 'Liberation Sans',sans-serif;color:#111;">6.6%</span>
<span class="t" style="left:718.54px;top:224.85px;font:400 4.7px/1 'Liberation Sans',sans-serif;color:#111;">20.6%</span>
<span class="t" style="left:687.84px;top:230.85px;font:400 4.7px/1 'Liberation Sans',sans-serif;color:#111;">10.7%</span>
<span class="t" style="left:669.24px;top:188.45px;font:400 4.7px/1 'Liberation Sans',sans-serif;color:#111;">39.9%</span>
<div class="abs" style="left:658.6px;top:275.5px;width:163.1px;height:178.9px;background:#fff;border-radius:3px;overflow:hidden;box-shadow:0 1px 2px rgba(40,70,120,.5), 0 0 0 .8px #9dbde6">
<div class="abs" style="left:0;top:0;width:100%;height:13.5px;background:#e0e0e0"></div>
<div class="abs" style="left:0;top:13.50px;width:100%;height:15.12px;border-bottom:1px solid #e6e9ee"></div>
<div class="abs" style="left:76.4px;top:13.50px;width:86.7px;height:15.12px;background:rgb(0,114,240)"></div>
<div class="abs" style="left:0;top:28.62px;width:100%;height:15.12px;border-bottom:1px solid #e6e9ee"></div>
<div class="abs" style="left:76.4px;top:28.62px;width:86.7px;height:15.12px;background:rgb(205,227,252)"></div>
<div class="abs" style="left:0;top:43.74px;width:100%;height:15.12px;border-bottom:1px solid #e6e9ee"></div>
<div class="abs" style="left:76.4px;top:43.74px;width:86.7px;height:15.12px;background:rgb(172,209,250)"></div>
<div class="abs" style="left:0;top:58.86px;width:100%;height:15.12px;border-bottom:1px solid #e6e9ee"></div>
<div class="abs" style="left:76.4px;top:58.86px;width:86.7px;height:15.12px;background:rgb(236,245,254)"></div>
<div class="abs" style="left:0;top:73.98px;width:100%;height:15.12px;border-bottom:1px solid #e6e9ee"></div>
<div class="abs" style="left:76.4px;top:73.98px;width:86.7px;height:15.12px;background:rgb(218,235,253)"></div>
<div class="abs" style="left:0;top:89.10px;width:100%;height:15.12px;border-bottom:1px solid #e6e9ee"></div>
<div class="abs" style="left:76.4px;top:89.10px;width:86.7px;height:15.12px;background:rgb(247,250,255)"></div>
<div class="abs" style="left:0;top:104.22px;width:100%;height:15.12px;border-bottom:1px solid #e6e9ee"></div>
<div class="abs" style="left:76.4px;top:104.22px;width:86.7px;height:15.12px;background:rgb(190,219,251)"></div>
<div class="abs" style="left:0;top:119.34px;width:100%;height:15.12px;border-bottom:1px solid #e6e9ee"></div>
<div class="abs" style="left:76.4px;top:119.34px;width:86.7px;height:15.12px;background:rgb(186,217,251)"></div>
<div class="abs" style="left:0;top:134.46px;width:100%;height:15.12px;border-bottom:1px solid #e6e9ee"></div>
<div class="abs" style="left:76.4px;top:134.46px;width:86.7px;height:15.12px;background:rgb(234,244,254)"></div>
<div class="abs" style="left:0;top:149.58px;width:100%;height:15.12px;border-bottom:1px solid #e6e9ee"></div>
<div class="abs" style="left:76.4px;top:149.58px;width:86.7px;height:15.12px;background:rgb(192,220,251)"></div>
<div class="abs" style="left:0;top:164.70px;width:100%;height:1px;background:#dfe3e8"></div>
</div>
<span class="t" style="left:680.70px;top:278.00px;font:700 7.0px/1 'Liberation Sans',sans-serif;color:#111;transform:scaleX(1.0291);transform-origin:0 50%;-webkit-text-stroke:.2px;">Month</span>
<span class="t" style="left:773.51px;top:278.00px;font:700 7.0px/1 'Liberation Sans',sans-serif;color:#111;transform:scaleX(0.9735);transform-origin:100% 50%;-webkit-text-stroke:.2px;">Total Savings</span>
<span class="t" style="left:663.30px;top:293.65px;font:400 6.3px/1 'Liberation Sans',sans-serif;color:#1a1a1a;-webkit-text-stroke:.1px;">1.</span>
<span class="t" style="left:680.70px;top:293.65px;font:400 6.3px/1 'Liberation Sans',sans-serif;color:#1a1a1a;transform:scaleX(0.9650);transform-origin:0 50%;-webkit-text-stroke:.1px;">January</span>
<span class="t" style="left:778.01px;top:293.65px;font:400 6.3px/1 'Liberation Sans',sans-serif;color:#0d2b52;transform:scaleX(0.9450);transform-origin:100% 50%;-webkit-text-stroke:.12px;">7,318,441,776</span>
<span class="t" style="left:663.30px;top:308.77px;font:400 6.3px/1 'Liberation Sans',sans-serif;color:#1a1a1a;-webkit-text-stroke:.1px;">2.</span>
<span class="t" style="left:680.70px;top:308.77px;font:400 6.3px/1 'Liberation Sans',sans-serif;color:#1a1a1a;transform:scaleX(0.9650);transform-origin:0 50%;-webkit-text-stroke:.1px;">February</span>
<span class="t" style="left:778.01px;top:308.77px;font:400 6.3px/1 'Liberation Sans',sans-serif;color:#1a1a1a;transform:scaleX(0.9450);transform-origin:100% 50%;-webkit-text-stroke:.12px;">1,080,739,438</span>
<span class="t" style="left:663.30px;top:323.89px;font:400 6.3px/1 'Liberation Sans',sans-serif;color:#1a1a1a;-webkit-text-stroke:.1px;">3.</span>
<span class="t" style="left:680.70px;top:323.89px;font:400 6.3px/1 'Liberation Sans',sans-serif;color:#1a1a1a;transform:scaleX(0.9650);transform-origin:0 50%;-webkit-text-stroke:.1px;">March</span>
<span class="t" style="left:778.01px;top:323.89px;font:400 6.3px/1 'Liberation Sans',sans-serif;color:#1a1a1a;transform:scaleX(0.9450);transform-origin:100% 50%;-webkit-text-stroke:.12px;">1,966,684,513</span>
<span class="t" style="left:663.30px;top:339.01px;font:400 6.3px/1 'Liberation Sans',sans-serif;color:#1a1a1a;-webkit-text-stroke:.1px;">4.</span>
<span class="t" style="left:680.70px;top:339.01px;font:400 6.3px/1 'Liberation Sans',sans-serif;color:#1a1a1a;transform:scaleX(0.9650);transform-origin:0 50%;-webkit-text-stroke:.1px;">April</span>
<span class="t" style="left:783.27px;top:339.01px;font:400 6.3px/1 'Liberation Sans',sans-serif;color:#1a1a1a;transform:scaleX(0.9450);transform-origin:100% 50%;-webkit-text-stroke:.12px;">338,970,869</span>
<span class="t" style="left:663.30px;top:354.13px;font:400 6.3px/1 'Liberation Sans',sans-serif;color:#1a1a1a;-webkit-text-stroke:.1px;">5.</span>
<span class="t" style="left:680.70px;top:354.13px;font:400 6.3px/1 'Liberation Sans',sans-serif;color:#1a1a1a;transform:scaleX(0.9650);transform-origin:0 50%;-webkit-text-stroke:.1px;">May</span>
<span class="t" style="left:783.27px;top:354.13px;font:400 6.3px/1 'Liberation Sans',sans-serif;color:#1a1a1a;transform:scaleX(0.9450);transform-origin:100% 50%;-webkit-text-stroke:.12px;">755,522,716</span>
<span class="t" style="left:663.30px;top:369.25px;font:400 6.3px/1 'Liberation Sans',sans-serif;color:#1a1a1a;-webkit-text-stroke:.1px;">6.</span>
<span class="t" style="left:680.70px;top:369.25px;font:400 6.3px/1 'Liberation Sans',sans-serif;color:#1a1a1a;transform:scaleX(0.9650);transform-origin:0 50%;-webkit-text-stroke:.1px;">June</span>
<span class="t" style="left:783.27px;top:369.25px;font:400 6.3px/1 'Liberation Sans',sans-serif;color:#1a1a1a;transform:scaleX(0.9450);transform-origin:100% 50%;-webkit-text-stroke:.12px;">128,328,400</span>
<span class="t" style="left:663.30px;top:384.37px;font:400 6.3px/1 'Liberation Sans',sans-serif;color:#1a1a1a;-webkit-text-stroke:.1px;">7.</span>
<span class="t" style="left:680.70px;top:384.37px;font:400 6.3px/1 'Liberation Sans',sans-serif;color:#1a1a1a;transform:scaleX(0.9650);transform-origin:0 50%;-webkit-text-stroke:.1px;">July</span>
<span class="t" style="left:778.01px;top:384.37px;font:400 6.3px/1 'Liberation Sans',sans-serif;color:#1a1a1a;transform:scaleX(0.9450);transform-origin:100% 50%;-webkit-text-stroke:.12px;">1,471,600,550</span>
<span class="t" style="left:663.30px;top:399.49px;font:400 6.3px/1 'Liberation Sans',sans-serif;color:#1a1a1a;-webkit-text-stroke:.1px;">8.</span>
<span class="t" style="left:680.70px;top:399.49px;font:400 6.3px/1 'Liberation Sans',sans-serif;color:#1a1a1a;transform:scaleX(0.9650);transform-origin:0 50%;-webkit-text-stroke:.1px;">August</span>
<span class="t" style="left:778.01px;top:399.49px;font:400 6.3px/1 'Liberation Sans',sans-serif;color:#1a1a1a;transform:scaleX(0.9450);transform-origin:100% 50%;-webkit-text-stroke:.12px;">1,567,143,742</span>
<span class="t" style="left:663.30px;top:414.61px;font:400 6.3px/1 'Liberation Sans',sans-serif;color:#1a1a1a;-webkit-text-stroke:.1px;">9.</span>
<span class="t" style="left:680.70px;top:414.61px;font:400 6.3px/1 'Liberation Sans',sans-serif;color:#1a1a1a;transform:scaleX(0.9650);transform-origin:0 50%;-webkit-text-stroke:.1px;">September</span>
<span class="t" style="left:783.27px;top:414.61px;font:400 6.3px/1 'Liberation Sans',sans-serif;color:#1a1a1a;transform:scaleX(0.9450);transform-origin:100% 50%;-webkit-text-stroke:.12px;">380,759,900</span>
<span class="t" style="left:663.30px;top:429.73px;font:400 6.3px/1 'Liberation Sans',sans-serif;color:#1a1a1a;-webkit-text-stroke:.1px;">10.</span>
<span class="t" style="left:680.70px;top:429.73px;font:400 6.3px/1 'Liberation Sans',sans-serif;color:#1a1a1a;transform:scaleX(0.9650);transform-origin:0 50%;-webkit-text-stroke:.1px;">October</span>
<span class="t" style="left:778.01px;top:429.73px;font:400 6.3px/1 'Liberation Sans',sans-serif;color:#1a1a1a;transform:scaleX(0.9450);transform-origin:100% 50%;-webkit-text-stroke:.12px;">1,407,970,500</span>
<span class="t" style="left:751.99px;top:444.30px;font:400 6.4px/1 'Liberation Sans',sans-serif;color:#333;-webkit-text-stroke:.1px;">1 - 12 / 12</span>
<svg style="left:791.5px;top:444.6px" width="26" height="8" viewBox="0 0 26 8" fill="none" stroke="#7c7c7c" stroke-width=".9"><path d="M4.4 1.4 L1.9 4 L4.4 6.6"/><path d="M20.6 1.4 L23.1 4 L20.6 6.6"/></svg>
</body></html>
